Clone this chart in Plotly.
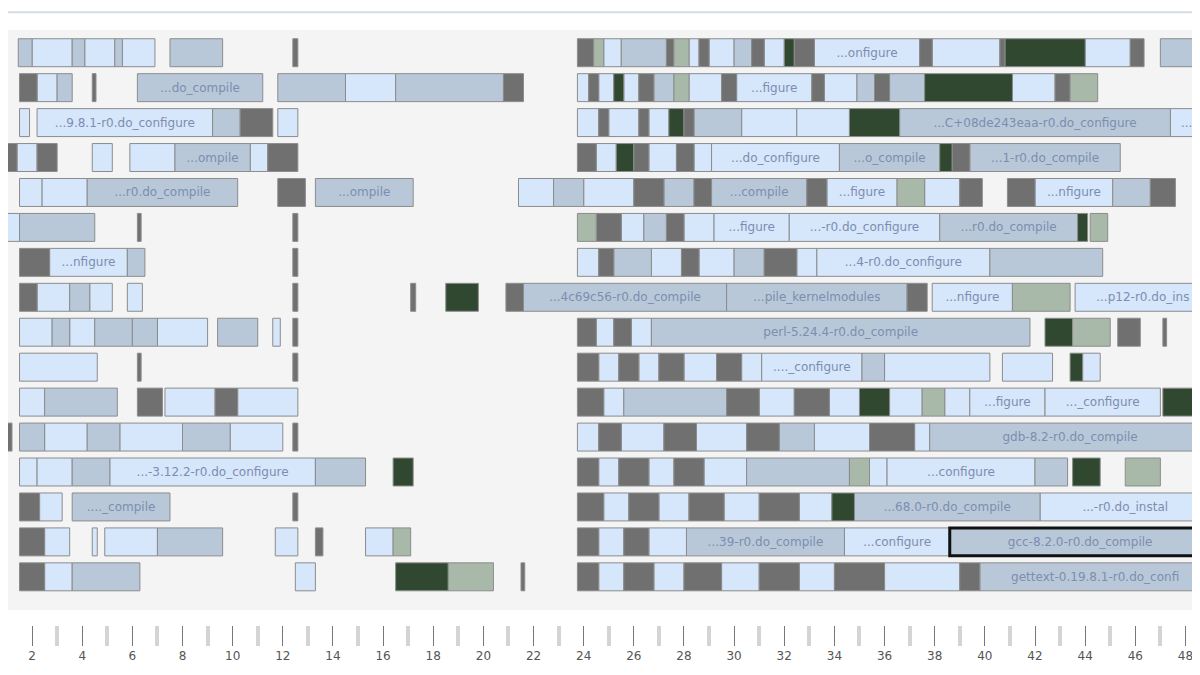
import plotly.graph_objects as go

# colour keys -> fill
colours = {"L": "#d6e6fb", "B": "#b8c8d8", "D": "#2f482f", "G": "#707070", "S": "#a9b9a9"}

# each row: (start, end, colour key, label)
row_01 = [(0.72, 1.0, "G", ""), (1.45, 2.0, "B", ""), (2.0, 3.6, "L", ""), (3.6, 4.1, "B", ""), (4.1, 5.3, "L", ""), (5.3, 5.6, "B", ""), (5.6, 6.9, "L", ""),
          (7.5, 9.6, "B", ""), (12.4, 12.6, "G", ""),
          (23.75, 24.4, "G", ""), (24.4, 24.8, "S", ""), (24.8, 25.5, "L", ""), (25.5, 27.3, "B", ""), (27.3, 27.6, "G", ""), (27.6, 28.2, "S", ""),
          (28.2, 28.6, "L", ""), (28.6, 29.0, "G", ""), (29.0, 30.0, "L", ""), (30.0, 30.7, "B", ""), (30.7, 31.2, "G", ""), (31.2, 32.0, "L", ""),
          (32.0, 32.4, "D", ""), (32.4, 33.2, "G", ""), (33.2, 37.4, "L", "...onfigure"), (37.4, 37.9, "G", ""), (37.9, 40.6, "L", ""),
          (40.6, 40.8, "G", ""), (40.8, 44.0, "D", ""), (44.0, 45.8, "L", ""), (45.8, 46.35, "G", ""), (47.0, 49.0, "B", "")]
row_02 = [(0.72, 1.0, "L", ""), (1.5, 2.2, "G", ""), (2.2, 3.0, "L", ""), (3.0, 3.6, "B", ""), (4.4, 4.55, "G", ""),
          (6.2, 11.2, "B", "...do_compile"), (11.8, 14.5, "B", ""), (14.5, 16.5, "L", ""), (16.5, 20.8, "B", ""), (20.8, 21.6, "G", ""),
          (23.75, 24.2, "L", ""), (24.2, 24.6, "G", ""), (24.6, 25.2, "L", ""), (25.2, 25.6, "D", ""), (25.6, 26.2, "L", ""), (26.2, 26.8, "G", ""),
          (26.8, 27.6, "B", ""), (27.6, 28.2, "S", ""), (28.2, 29.5, "L", ""), (29.5, 30.1, "G", ""), (30.1, 33.1, "L", "...figure"), (33.1, 33.6, "G", ""),
          (33.6, 34.9, "L", ""), (34.9, 35.6, "B", ""), (35.6, 36.2, "G", ""), (36.2, 37.6, "B", ""), (37.6, 41.1, "D", ""), (41.1, 42.8, "L", ""),
          (42.8, 43.4, "G", ""), (43.4, 44.5, "S", "")]
row_03 = [(0.72, 1.0, "L", ""), (1.5, 1.9, "L", ""), (2.2, 9.2, "L", "...9.8.1-r0.do_configure"), (9.2, 10.3, "B", ""), (10.3, 11.6, "G", ""), (11.8, 12.6, "L", ""),
          (23.75, 24.6, "L", ""), (24.6, 25.0, "G", ""), (25.0, 26.2, "L", ""), (26.2, 26.6, "G", ""), (26.6, 27.4, "L", ""), (27.4, 28.0, "D", ""),
          (28.0, 28.4, "G", ""), (28.4, 30.3, "B", ""), (30.3, 32.5, "L", ""), (32.5, 34.6, "L", ""), (34.6, 36.6, "D", ""),
          (36.6, 47.4, "B", "...C+08de243eaa-r0.do_configure"), (47.4, 49.0, "L", "...3")]
row_04 = [(0.72, 1.4, "G", ""), (1.4, 2.2, "L", ""), (2.2, 3.0, "G", ""), (4.4, 5.2, "L", ""), (5.9, 7.7, "L", ""), (7.7, 10.7, "B", "...ompile"),
          (10.7, 11.4, "L", ""), (11.4, 12.6, "G", ""),
          (23.75, 24.5, "G", ""), (24.5, 25.3, "L", ""), (25.3, 26.0, "D", ""), (26.0, 26.6, "G", ""), (26.6, 27.7, "L", ""), (27.7, 28.4, "G", ""),
          (28.4, 29.1, "L", ""), (29.1, 34.2, "L", "...do_configure"), (34.2, 38.2, "B", "...o_compile"), (38.2, 38.7, "D", ""), (38.7, 39.4, "G", ""),
          (39.4, 45.4, "B", "...1-r0.do_compile")]
row_05 = [(0.72, 1.0, "G", ""), (1.5, 2.4, "L", ""), (2.4, 4.2, "L", ""), (4.2, 10.2, "B", "...r0.do_compile"), (11.8, 12.9, "G", ""),
          (13.3, 17.2, "B", "...ompile"),
          (21.4, 22.8, "L", ""), (22.8, 24.0, "B", ""), (24.0, 26.0, "L", ""), (26.0, 27.2, "G", ""), (27.2, 28.4, "B", ""), (28.4, 29.1, "G", ""),
          (29.1, 32.9, "B", "...compile"), (32.9, 33.7, "G", ""), (33.7, 36.5, "L", "...figure"), (36.5, 37.6, "S", ""), (37.6, 39.0, "L", ""),
          (39.0, 39.9, "G", ""), (40.9, 42.0, "G", ""), (42.0, 45.1, "L", "...nfigure"), (45.1, 46.6, "B", ""), (46.6, 47.6, "G", "")]
row_06 = [(0.72, 1.0, "G", ""), (1.0, 1.5, "L", ""), (1.5, 4.5, "B", ""), (6.2, 6.35, "G", ""), (12.4, 12.6, "G", ""),
          (23.75, 24.5, "S", ""), (24.5, 25.5, "G", ""), (25.5, 26.4, "L", ""), (26.4, 27.3, "B", ""), (27.3, 28.0, "G", ""), (28.0, 29.2, "L", ""),
          (29.2, 32.2, "L", "...figure"), (32.2, 38.2, "L", "...-r0.do_configure"), (38.2, 43.7, "B", "...r0.do_compile"), (43.7, 44.1, "D", ""),
          (44.2, 44.9, "S", "")]
row_07 = [(0.72, 0.9, "L", ""), (1.5, 2.7, "G", ""), (2.7, 5.8, "L", "...nfigure"), (5.8, 6.5, "B", ""), (12.4, 12.6, "G", ""),
          (23.75, 24.6, "L", ""), (24.6, 25.2, "G", ""), (25.2, 26.7, "B", ""), (26.7, 27.9, "L", ""), (27.9, 28.6, "G", ""), (28.6, 30.0, "L", ""),
          (30.0, 31.2, "B", ""), (31.2, 32.5, "G", ""), (32.5, 33.3, "L", ""), (33.3, 40.2, "L", "...4-r0.do_configure"), (40.2, 44.7, "B", "")]
row_08 = [(0.72, 1.0, "L", ""), (1.5, 2.2, "G", ""), (2.2, 3.5, "L", ""), (3.5, 4.3, "B", ""), (4.3, 5.2, "L", ""), (5.8, 6.4, "L", ""),
          (12.4, 12.6, "G", ""), (17.1, 17.3, "G", ""), (18.5, 19.8, "D", ""),
          (20.9, 21.6, "G", ""), (21.6, 29.7, "B", "...4c69c56-r0.do_compile"), (29.7, 36.9, "B", "...pile_kernelmodules"), (36.9, 37.7, "G", ""),
          (37.9, 41.1, "L", "...nfigure"), (41.1, 43.4, "S", ""), (43.6, 49.0, "L", "...p12-r0.do_ins")]
row_09 = [(0.72, 1.0, "L", ""), (1.5, 2.8, "L", ""), (2.8, 3.5, "B", ""), (3.5, 4.5, "L", ""), (4.5, 6.0, "B", ""), (6.0, 7.0, "B", ""),
          (7.0, 9.0, "L", ""), (9.4, 11.0, "B", ""), (11.6, 11.9, "L", ""), (12.4, 12.6, "G", ""),
          (23.75, 24.5, "G", ""), (24.5, 25.2, "L", ""), (25.2, 25.9, "G", ""), (25.9, 26.7, "L", ""), (26.7, 41.8, "B", "perl-5.24.4-r0.do_compile"),
          (42.4, 43.5, "D", ""), (43.5, 45.0, "S", ""), (45.3, 46.2, "G", ""), (47.1, 47.25, "G", "")]
row_10 = [(0.72, 1.0, "L", ""), (1.5, 4.6, "L", ""), (6.2, 6.35, "G", ""), (12.4, 12.6, "G", ""),
          (23.75, 24.6, "G", ""), (24.6, 25.4, "L", ""), (25.4, 26.2, "G", ""), (26.2, 27.0, "L", ""), (27.0, 28.0, "G", ""), (28.0, 29.3, "L", ""),
          (29.3, 30.3, "G", ""), (30.3, 31.1, "L", ""), (31.1, 35.1, "L", "...._configure"), (35.1, 36.0, "B", ""), (36.0, 40.2, "L", ""),
          (40.7, 42.7, "L", ""), (43.4, 43.9, "D", ""), (43.9, 44.6, "L", "")]
row_11 = [(0.72, 1.0, "G", ""), (1.5, 2.5, "L", ""), (2.5, 5.4, "B", ""), (6.2, 7.2, "G", ""), (7.3, 9.3, "L", ""), (9.3, 10.2, "G", ""),
          (10.2, 12.6, "L", ""),
          (23.75, 24.8, "G", ""), (24.8, 25.6, "L", ""), (25.6, 29.7, "B", ""), (29.7, 31.0, "G", ""), (31.0, 32.4, "L", ""), (32.4, 33.8, "G", ""),
          (33.8, 35.0, "L", ""), (35.0, 36.2, "D", ""), (36.2, 37.5, "L", ""), (37.5, 38.4, "S", ""), (38.4, 39.4, "L", ""),
          (39.4, 42.4, "L", "...figure"), (42.4, 47.0, "L", "..._configure"), (47.1, 49.0, "D", "")]
row_12 = [(0.72, 1.2, "G", ""), (1.5, 2.5, "B", ""), (2.5, 4.2, "L", ""), (4.2, 5.5, "B", ""), (5.5, 8.0, "L", ""), (8.0, 9.9, "B", ""),
          (9.9, 12.0, "L", ""), (12.4, 12.6, "G", ""),
          (23.75, 24.6, "L", ""), (24.6, 25.5, "G", ""), (25.5, 27.2, "L", ""), (27.2, 28.5, "G", ""), (28.5, 30.5, "L", ""), (30.5, 31.8, "G", ""),
          (31.8, 33.2, "B", ""), (33.2, 35.4, "L", ""), (35.4, 37.2, "G", ""), (37.2, 37.8, "L", ""), (37.8, 49.0, "B", "gdb-8.2-r0.do_compile")]
row_13 = [(0.72, 0.9, "L", ""), (1.5, 2.2, "L", ""), (2.2, 3.6, "L", ""), (3.6, 5.1, "B", ""), (5.1, 13.3, "L", "...-3.12.2-r0.do_configure"),
          (13.3, 15.3, "B", ""), (16.4, 17.2, "D", ""),
          (23.75, 24.6, "G", ""), (24.6, 25.4, "L", ""), (25.4, 26.6, "G", ""), (26.6, 27.6, "L", ""), (27.6, 28.8, "G", ""), (28.8, 30.5, "L", ""),
          (30.5, 34.6, "B", ""), (34.6, 35.4, "S", ""), (35.4, 36.1, "L", ""), (36.1, 42.0, "L", "...configure"), (42.0, 43.3, "B", ""),
          (43.5, 44.6, "D", ""), (45.6, 47.0, "S", "")]
row_14 = [(0.72, 0.9, "L", ""), (1.5, 2.3, "G", ""), (2.3, 3.2, "L", ""), (3.6, 7.5, "B", "...._compile"), (12.4, 12.6, "G", ""),
          (23.75, 24.8, "G", ""), (24.8, 25.8, "L", ""), (25.8, 27.0, "G", ""), (27.0, 28.2, "L", ""), (28.2, 29.6, "G", ""), (29.6, 31.0, "L", ""),
          (31.0, 32.6, "G", ""), (32.6, 33.9, "L", ""), (33.9, 34.8, "D", ""), (34.8, 42.2, "B", "...68.0-r0.do_compile"),
          (42.2, 49.0, "L", "...-r0.do_instal")]
row_15 = [(0.72, 1.0, "L", ""), (1.5, 2.5, "G", ""), (2.5, 3.5, "L", ""), (4.4, 4.6, "L", ""), (4.9, 7.0, "L", ""), (7.0, 9.6, "B", ""),
          (11.7, 12.6, "L", ""), (13.3, 13.6, "G", ""), (15.3, 16.4, "L", ""), (16.4, 17.1, "S", ""),
          (23.75, 24.6, "G", ""), (24.6, 25.6, "L", ""), (25.6, 26.6, "G", ""), (26.6, 28.1, "L", ""), (28.1, 34.4, "B", "...39-r0.do_compile"),
          (34.4, 38.6, "L", "...configure")]
row_16 = [(0.72, 1.0, "L", ""), (1.5, 2.5, "G", ""), (2.5, 3.6, "L", ""), (3.6, 6.3, "B", ""), (12.5, 13.3, "L", ""), (16.5, 18.6, "D", ""),
          (18.6, 20.4, "S", ""), (21.5, 21.65, "G", ""),
          (23.75, 24.6, "G", ""), (24.6, 25.6, "L", ""), (25.6, 26.8, "G", ""), (26.8, 28.0, "L", ""), (28.0, 29.5, "G", ""), (29.5, 31.0, "L", ""),
          (31.0, 32.6, "G", ""), (32.6, 34.0, "L", ""), (34.0, 36.0, "G", ""), (36.0, 39.0, "L", ""), (39.0, 39.8, "G", ""),
          (39.8, 49.0, "B", "gettext-0.19.8.1-r0.do_confi")]

rows = [row_01, row_02, row_03, row_04, row_05, row_06, row_07, row_08,
        row_09, row_10, row_11, row_12, row_13, row_14, row_15, row_16]

# the selected task (thick black outline)
selected = (14, 38.6, 49.0, "B", "gcc-8.2.0-r0.do_compile")

fig = go.Figure()

for key, col in colours.items():
    ys, xs, bases, texts = [], [], [], []
    for i, row in enumerate(rows):
        for s, e, c, lab in row:
            if c == key:
                ys.append(i)
                bases.append(s)
                xs.append(e - s)
                texts.append(lab)
    fig.add_trace(go.Bar(
        y=ys, x=xs, base=bases, orientation="h", width=0.8,
        marker=dict(color=col, line=dict(color="#8c8c8c", width=1)),
        text=texts, textposition="inside", insidetextanchor="middle",
        textfont=dict(family="DejaVu Sans", size=12, color="#7d8db0"),
        constraintext="none", cliponaxis=True, showlegend=False, hoverinfo="skip"))

r, s, e, c, lab = selected
fig.add_trace(go.Bar(
    y=[r], x=[e - s], base=[s], orientation="h", width=0.8,
    marker=dict(color=colours[c], line=dict(color="#111111", width=3)),
    text=[lab], textposition="inside", insidetextanchor="middle",
    textfont=dict(family="DejaVu Sans", size=12, color="#7d8db0"),
    showlegend=False, hoverinfo="skip"))

fig.update_layout(
    width=1200, height=675, barmode="overlay",
    margin=dict(l=0, r=0, t=22, b=20),
    paper_bgcolor="white", plot_bgcolor="#f4f4f4",
    xaxis=dict(range=[1.04, 48.9], showgrid=False, zeroline=False,
               anchor="free", position=0.06,
               tickmode="array", tickvals=list(range(2, 49, 2)),
               ticks="outside", ticklen=20, tickcolor="#777777", tickwidth=1,
               minor=dict(tickvals=list(range(1, 49, 2)), ticks="outside", ticklen=20,
                          tickcolor="#d4d4d4", tickwidth=4),
               tickfont=dict(family="DejaVu Sans", size=12, color="#555555")),
    yaxis=dict(range=[15.95, -0.65], domain=[0.0837, 1], showgrid=False,
               zeroline=False, showticklabels=False),
    shapes=[dict(type="line", xref="paper", yref="paper", x0=0, x1=1,
                 y0=1.028, y1=1.028, line=dict(color="#d5dce8", width=2))],
)

fig.write_html("out.html")
